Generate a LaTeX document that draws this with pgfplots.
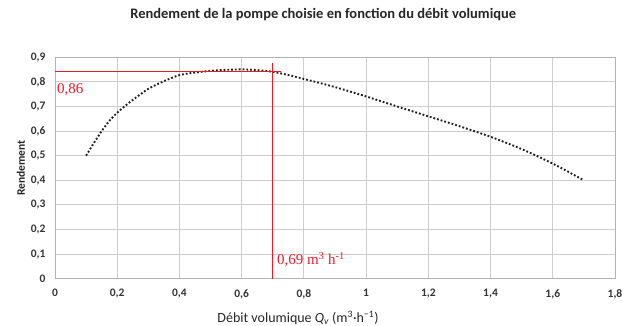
\documentclass[border=0pt]{standalone}
\usepackage{pgfplots}
\pgfplotsset{compat=1.18}
\usepackage{fontspec}
\setmainfont{Carlito}
\newfontfamily\timesfont{Liberation Serif}
\definecolor{annot}{RGB}{225,30,40}
\definecolor{gridc}{RGB}{205,205,205}
\pgfplotstableread{
x y
0.10 0.500
0.125 0.552
0.15 0.600
0.175 0.642
0.20 0.675
0.225 0.702
0.25 0.727
0.30 0.772
0.35 0.803
0.40 0.828
0.45 0.838
0.50 0.845
0.55 0.849
0.60 0.851
0.65 0.848
0.70 0.841
0.75 0.828
0.80 0.812
0.85 0.796
0.90 0.779
1.00 0.741
1.10 0.700
1.20 0.660
1.30 0.620
1.40 0.577
1.50 0.527
1.60 0.468
1.70 0.400
}\rendement
\begin{document}
\begin{tikzpicture}
\begin{axis}[
  at={(0,0)}, anchor=south west,
  scale only axis, width=560pt, height=221.4pt,
  xmin=0, xmax=1.8, ymin=0, ymax=0.9,
  xtick={0,0.2,0.4,0.6,0.8,1,1.2,1.4,1.6,1.8},
  ytick={0,0.1,0.2,0.3,0.4,0.5,0.6,0.7,0.8,0.9},
  /pgf/number format/use comma,
  /pgf/number format/assume math mode=true,
  grid=major, grid style={gridc, line width=0.9pt},
  axis line style={draw=black!30, line width=0.9pt},
  major tick length=0pt,
  tick label style={font=\fontsize{11.5}{13}\selectfont\bfseries, text=black!80},
  yticklabel style={xshift=-6pt},
  xticklabel style={yshift=-7pt},
  title={Rendement de la pompe choisie en fonction du débit volumique},
  title style={at={(0.479,1)}, anchor=center, yshift=37pt, font=\fontsize{14.5}{17}\selectfont\bfseries, text=black!85},
  xlabel={Débit volumique {\itshape Q\textsubscript{v}} (m\textsuperscript{3}·h\textsuperscript{−1})},
  xlabel style={at={(0.434,0)}, anchor=center, yshift=-39.3pt, font=\fontsize{14}{17}\selectfont, text=black!85},
  ylabel={Rendement},
  ylabel style={at={(0,0.5)}, anchor=center, rotate=0, yshift=34pt, font=\fontsize{11.5}{14}\selectfont\bfseries, text=black!85},
  clip=false,
]
\addplot[black!88, line width=1.9pt, dash pattern=on 1.8pt off 2.0pt, smooth, tension=0.35] table[x=x, y=y] {\rendement};
\draw[annot, line width=0.8pt] (axis cs:0,0.843) -- (axis cs:0.725,0.843);
\draw[annot, line width=0.8pt] (axis cs:0.699,0) -- (axis cs:0.699,0.876);
\node[annot, anchor=base west, inner sep=0pt, font=\timesfont\fontsize{15}{18}\selectfont] at (axis cs:0.006,0.754) {0,86};
\node[annot, anchor=base west, inner sep=0pt, font=\timesfont\fontsize{15}{18}\selectfont] at (axis cs:0.713,0.0557) {0,69 m\textsuperscript{3} h\textsuperscript{-1}};
\end{axis}
\pgfresetboundingbox
\path[use as bounding box] (-55pt,-47.3pt) rectangle (575pt,278.7pt);
\end{tikzpicture}
\end{document}
